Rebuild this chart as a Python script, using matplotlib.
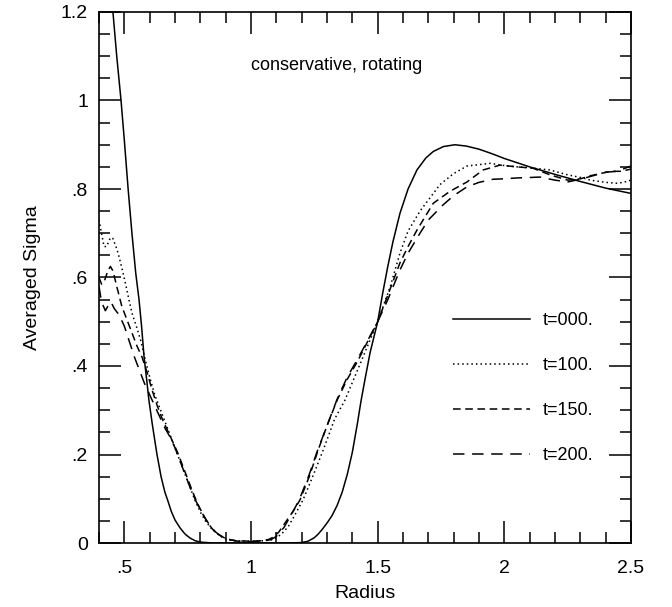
import numpy as np
import matplotlib
matplotlib.use("Agg")
import matplotlib.pyplot as plt
from matplotlib.ticker import MultipleLocator, FuncFormatter

plt.rcParams['font.family'] = ['Liberation Sans', 'DejaVu Sans']

# t=000. (solid)
r0 = [0.44, 0.455, 0.47, 0.487, 0.50, 0.515, 0.53, 0.545, 0.558, 0.568, 0.578, 0.588,
      0.597, 0.610, 0.628, 0.645, 0.660, 0.672, 0.685, 0.700, 0.720, 0.740, 0.760, 0.780,
      0.800, 0.850, 0.90, 1.0, 1.10, 1.15, 1.20, 1.225, 1.25, 1.265, 1.28, 1.30, 1.32,
      1.34, 1.36, 1.38, 1.40, 1.42, 1.434, 1.45, 1.47, 1.50, 1.52, 1.54, 1.56, 1.588,
      1.62, 1.655, 1.69, 1.72, 1.76, 1.805, 1.85, 1.90, 1.95, 2.00, 2.10, 2.20, 2.30,
      2.40, 2.50]
s0 = [1.29, 1.20, 1.10, 1.00, 0.91, 0.80, 0.70, 0.61, 0.55, 0.49, 0.42, 0.37,
      0.323, 0.27, 0.203, 0.15, 0.115, 0.095, 0.072, 0.052, 0.034, 0.02, 0.011, 0.005,
      0.002, 0.0, 0.0, 0.0, 0.0, 0.0, 0.001, 0.004, 0.012, 0.02, 0.03, 0.045, 0.062,
      0.085, 0.115, 0.155, 0.205, 0.27, 0.32, 0.37, 0.43, 0.50, 0.565, 0.625, 0.68, 0.745,
      0.80, 0.843, 0.87, 0.885, 0.896, 0.900, 0.897, 0.89, 0.88, 0.869, 0.85, 0.833, 0.817,
      0.802, 0.79]

# t=100. (dotted)
r1 = [0.40, 0.41, 0.42, 0.43, 0.445, 0.455, 0.47, 0.48, 0.495, 0.507, 0.52, 0.53, 0.55,
      0.566, 0.58, 0.60, 0.62, 0.64, 0.66, 0.68, 0.70, 0.72, 0.74, 0.76, 0.78, 0.80, 0.82,
      0.84, 0.86, 0.88, 0.90, 0.93, 0.97, 1.00, 1.05, 1.08, 1.10, 1.12, 1.147, 1.17, 1.205,
      1.24, 1.285, 1.33, 1.371, 1.42, 1.46, 1.50, 1.55, 1.588, 1.62, 1.667, 1.70, 1.746,
      1.80, 1.853, 1.90, 1.944, 2.00, 2.05, 2.10, 2.18, 2.25, 2.31, 2.34, 2.40, 2.445,
      2.47, 2.50]
s1 = [0.73, 0.70, 0.67, 0.67, 0.69, 0.688, 0.665, 0.645, 0.61, 0.58, 0.545, 0.52, 0.485,
      0.455, 0.42, 0.375, 0.335, 0.305, 0.275, 0.245, 0.215, 0.185, 0.155, 0.125, 0.095,
      0.07, 0.05, 0.035, 0.024, 0.015, 0.009, 0.005, 0.004, 0.004, 0.005, 0.007, 0.012,
      0.02, 0.037, 0.06, 0.097, 0.145, 0.21, 0.28, 0.323, 0.39, 0.445, 0.50, 0.58, 0.655,
      0.705, 0.75, 0.775, 0.81, 0.835, 0.852, 0.855, 0.858, 0.853, 0.85, 0.848, 0.843,
      0.832, 0.825, 0.82, 0.815, 0.813, 0.815, 0.82]

# t=150. (short dash)
r2 = [0.40, 0.41, 0.42, 0.435, 0.445, 0.455, 0.47, 0.49, 0.51, 0.53, 0.55, 0.57, 0.59,
      0.61, 0.63, 0.65, 0.67, 0.69, 0.71, 0.73, 0.75, 0.77, 0.79, 0.81, 0.83, 0.85, 0.87,
      0.90, 0.94, 1.00, 1.04, 1.07, 1.09, 1.11, 1.14, 1.17, 1.193, 1.23, 1.265, 1.30, 1.34,
      1.38, 1.42, 1.46, 1.50, 1.54, 1.588, 1.62, 1.655, 1.69, 1.72, 1.786, 1.853, 1.916,
      1.983, 2.05, 2.113, 2.18, 2.25, 2.30, 2.34, 2.38, 2.42, 2.46, 2.50]
s2 = [0.60, 0.585, 0.59, 0.615, 0.625, 0.615, 0.58, 0.535, 0.505, 0.475, 0.445, 0.42,
      0.385, 0.345, 0.31, 0.28, 0.255, 0.23, 0.205, 0.175, 0.145, 0.115, 0.088, 0.065,
      0.045, 0.03, 0.02, 0.01, 0.005, 0.004, 0.005, 0.008, 0.014, 0.025, 0.05, 0.075,
      0.097, 0.15, 0.21, 0.265, 0.323, 0.37, 0.41, 0.455, 0.50, 0.56, 0.633, 0.67, 0.707,
      0.74, 0.768, 0.795, 0.816, 0.843, 0.854, 0.85, 0.847, 0.832, 0.82, 0.823, 0.83,
      0.835, 0.84, 0.84, 0.845]

# t=200. (long dash)
r3 = [0.40, 0.41, 0.425, 0.435, 0.447, 0.46, 0.48, 0.50, 0.52, 0.54, 0.562, 0.58, 0.60,
      0.62, 0.64, 0.66, 0.68, 0.70, 0.72, 0.74, 0.76, 0.78, 0.80, 0.82, 0.84, 0.86, 0.88,
      0.91, 0.95, 1.00, 1.05, 1.08, 1.10, 1.13, 1.16, 1.19, 1.23, 1.26, 1.30, 1.34, 1.38,
      1.42, 1.46, 1.50, 1.54, 1.588, 1.62, 1.667, 1.70, 1.758, 1.80, 1.853, 1.90, 1.955,
      2.00, 2.05, 2.10, 2.14, 2.20, 2.25, 2.30, 2.35, 2.40, 2.445, 2.50]
s3 = [0.58, 0.545, 0.525, 0.535, 0.545, 0.53, 0.515, 0.49, 0.455, 0.42, 0.387, 0.36,
      0.335, 0.31, 0.285, 0.26, 0.24, 0.215, 0.185, 0.155, 0.125, 0.098, 0.075, 0.055,
      0.038, 0.025, 0.016, 0.008, 0.004, 0.003, 0.004, 0.008, 0.015, 0.035, 0.065, 0.097,
      0.155, 0.205, 0.265, 0.325, 0.375, 0.415, 0.457, 0.50, 0.55, 0.617, 0.655, 0.70,
      0.73, 0.764, 0.785, 0.805, 0.815, 0.822, 0.823, 0.825, 0.826, 0.827, 0.82, 0.816,
      0.822, 0.83, 0.838, 0.84, 0.852]

labels = ["t=000.", "t=100.", "t=150.", "t=200."]
styles = ['-', (0, (1, 2)), (0, (5, 3)), (0, (7.5, 5))]

fig = plt.figure(figsize=(6.72, 6.07), dpi=100)
ax = fig.add_axes([99/672, 1 - 543/607, 532/672, 531/607])

for r, s, lab, ls in zip([r0, r1, r2, r3], [s0, s1, s2, s3], labels, styles):
    ax.plot(r, s, color='black', lw=1.1, ls=ls, label=lab)

ax.set_xlim(0.4, 2.5)
ax.set_ylim(0, 1.2)

def fmt(v, pos):
    s = "%g" % round(v, 2)
    if s.startswith("0."):
        s = s[1:]
    return s

ax.xaxis.set_major_locator(MultipleLocator(0.5))
ax.xaxis.set_minor_locator(MultipleLocator(0.1))
ax.yaxis.set_major_locator(MultipleLocator(0.2))
ax.yaxis.set_minor_locator(MultipleLocator(0.05))
ax.xaxis.set_major_formatter(FuncFormatter(fmt))
ax.yaxis.set_major_formatter(FuncFormatter(fmt))
ax.tick_params(which='both', direction='in', top=True, right=True, width=1.1, labelsize=14)
ax.tick_params(which='major', length=16, pad=8)
ax.tick_params(axis='x', which='major', pad=12)
ax.tick_params(which='minor', length=8)
for sp in ax.spines.values():
    sp.set_linewidth(1.2)

ax.set_xlabel("Radius", fontsize=14, labelpad=6)
ax.set_ylabel("Averaged Sigma", fontsize=14, labelpad=14)
ax.text(1.0, 1.078, "conservative, rotating", fontsize=13, va='center', ha='left')

ax.legend(loc='center left', bbox_to_anchor=(0.665, 0.292), frameon=False, fontsize=13,
          handlelength=4.3, handletextpad=0.67, labelspacing=1.55, borderpad=0, borderaxespad=0)

fig.savefig("out.png", dpi=100)
